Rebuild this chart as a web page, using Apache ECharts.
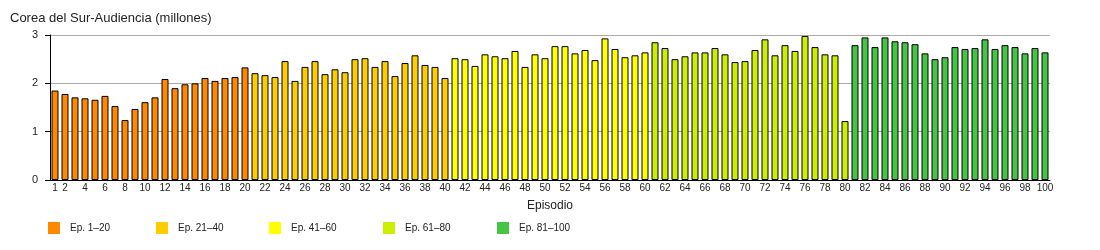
<!DOCTYPE html>
<html><head><meta charset="utf-8">
<script src="https://cdn.jsdelivr.net/npm/echarts@6/dist/echarts.min.js"></script>
<style>html,body{margin:0;padding:0;background:#fff}#c{width:1100px;height:250px}</style>
</head><body><div id="c"></div>
<script>
const titleText = 'Corea del Sur-Audiencia (millones)';
const xAxisName = 'Episodio';
const groupNames = ['Ep. 1–20', 'Ep. 21–40', 'Ep. 41–60', 'Ep. 61–80', 'Ep. 81–100'];
const groupColors = ['#FF8800', '#FFCC00', '#FFFF00', '#CCEE00', '#44C644'];
const episodes = Array.from({length: 100}, (_, i) => String(i + 1));
const ep1to20 = [1.85,1.78,1.71,1.69,1.66,1.74,1.53,1.24,1.47,1.61,1.71,2.09,1.90,1.98,2.00,2.11,2.05,2.11,2.13,2.33];
const ep21to40 = [2.21,2.17,2.13,2.46,2.05,2.34,2.46,2.19,2.29,2.23,2.50,2.52,2.34,2.46,2.15,2.42,2.58,2.38,2.34,2.11];
const ep41to60 = [2.52,2.50,2.36,2.60,2.56,2.52,2.67,2.34,2.60,2.52,2.77,2.77,2.62,2.69,2.48,2.93,2.71,2.54,2.58,2.64];
const ep61to80 = [2.85,2.73,2.50,2.56,2.64,2.64,2.73,2.60,2.44,2.46,2.69,2.91,2.58,2.79,2.67,2.98,2.75,2.60,2.58,1.22];
const ep81to100 = [2.79,2.95,2.75,2.95,2.87,2.85,2.81,2.62,2.50,2.54,2.75,2.71,2.73,2.91,2.71,2.79,2.75,2.62,2.73,2.64];
const groups = [ep1to20, ep21to40, ep41to60, ep61to80, ep81to100];
const yTicks = [0, 1, 2, 3];
const legendLefts = [48, 156, 269, 383, 497];

const series = groups.map((vals, g) => {
  const data = episodes.map(() => '-');
  vals.forEach((v, i) => { data[g * 20 + i] = v; });
  return {
    name: groupNames[g], type: 'bar', stack: 'all', data,
    barWidth: 7,
    itemStyle: {color: groupColors[g], borderColor: '#000', borderWidth: 1},
    emphasis: {disabled: true}
  };
});

const legends = groupNames.map((n, g) => ({
  left: legendLefts[g], top: 222, padding: 0, itemWidth: 12, itemHeight: 12, itemGap: 0, icon: 'rect',
  data: [n],
  itemStyle: {borderWidth: 0},
  textStyle: {fontFamily: 'Liberation Sans, Arial, sans-serif', fontSize: 10, color: '#222', padding: [0, 0, 0, 5]}
}));

const chart = echarts.init(document.getElementById('c'), null, {renderer: 'canvas'});
chart.setOption({
  animation: false,
  title: {text: titleText, left: 5, top: 7, textStyle: {fontFamily: 'Liberation Sans, Arial, sans-serif', fontSize: 13, fontWeight: 'normal', color: '#222'}},
  grid: {left: 50, right: 50, top: 35, bottom: 70, containLabel: false},
  legend: legends,
  xAxis: {
    type: 'category', data: episodes, name: xAxisName, nameLocation: 'middle', nameGap: 20,
    nameTextStyle: {fontFamily: 'Liberation Sans, Arial, sans-serif', fontSize: 12, color: '#222'},
    axisLine: {lineStyle: {color: '#000', width: 1}},
    axisTick: {show: false},
    axisLabel: {
      interval: (idx) => idx === 0 || idx % 2 === 1,
      margin: 3, fontFamily: 'Liberation Sans, Arial, sans-serif', fontSize: 10, color: '#222'
    }
  },
  yAxis: {
    type: 'value', min: yTicks[0], max: yTicks[yTicks.length - 1], interval: 1,
    axisLine: {show: true, lineStyle: {color: '#000'}},
    axisTick: {show: true, length: 5, lineStyle: {color: '#000'}},
    axisLabel: {margin: 12, fontFamily: 'Liberation Sans, Arial, sans-serif', fontSize: 11, color: '#222'},
    splitLine: {lineStyle: {color: '#aaa'}}
  },
  series
});
</script></body></html>
